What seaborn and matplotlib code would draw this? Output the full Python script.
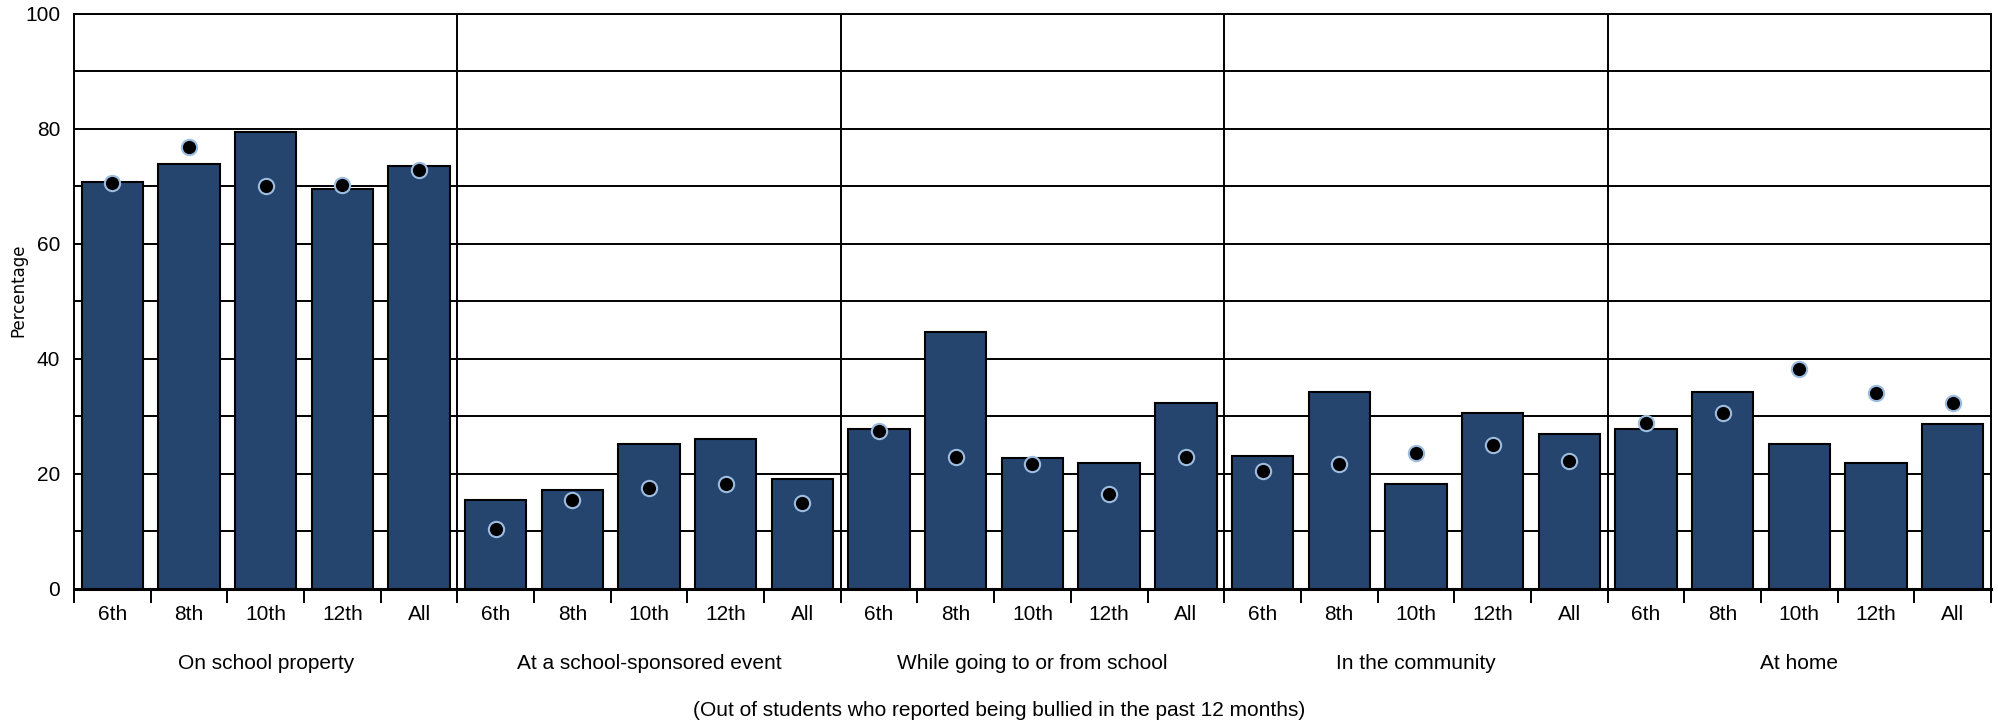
import numpy as np
import pandas as pd
import matplotlib.pyplot as plt
import seaborn as sns
from matplotlib.ticker import MultipleLocator, FixedLocator

# Data
# ==============================================
groups = ['On school property', 'At a school-sponsored event',
          'While going to or from school', 'In the community', 'At home']
grades = ['6th', '8th', '10th', '12th', 'All']

# bar values per group (6th, 8th, 10th, 12th, All)
bar_school = [70.7, 73.8, 79.4, 69.6, 73.5]
bar_event = [15.4, 17.1, 25.1, 26.0, 19.1]
bar_going = [27.8, 44.7, 22.7, 21.8, 32.3]
bar_community = [23.1, 34.3, 18.3, 30.5, 26.9]
bar_home = [27.8, 34.3, 25.1, 21.8, 28.7]

# dot values per group
dot_school = [70.5, 76.9, 70.1, 70.3, 72.8]
dot_event = [10.4, 15.4, 17.6, 18.2, 15.0]
dot_going = [27.5, 22.9, 21.7, 16.5, 22.9]
dot_community = [20.5, 21.7, 23.6, 25.0, 22.3]
dot_home = [28.9, 30.5, 38.3, 34.0, 32.3]

bars = [bar_school, bar_event, bar_going, bar_community, bar_home]
dots = [dot_school, dot_event, dot_going, dot_community, dot_home]

rows = []
for g, bv, dv in zip(groups, bars, dots):
    for gr, b, d in zip(grades, bv, dv):
        rows.append({'group': g, 'grade': gr, 'key': g + '|' + gr, 'bar': b, 'dot': d})
df = pd.DataFrame(rows)
order = list(df['key'])

# Plot
# ==============================================
sns.set_style('white')
plt.rcParams['font.family'] = ['Liberation Sans', 'DejaVu Sans']
plt.rcParams['text.color'] = 'black'
plt.rcParams['xtick.color'] = 'black'
plt.rcParams['ytick.color'] = 'black'

fig = plt.figure(figsize=(19.99, 7.26), dpi=100)
ax = fig.add_axes([0.037, 0.189, 0.959, 0.792])

sns.barplot(data=df, x='key', y='bar', order=order, color='#26456e',
            saturation=1, edgecolor='black', linewidth=1.5, width=0.8,
            zorder=3, ax=ax)
sns.stripplot(data=df, x='key', y='dot', order=order, jitter=False,
              color='black', size=11, edgecolor='#9dbde0', linewidth=1.5,
              zorder=4, ax=ax)

n = len(order)
ax.set_xlim(-0.5, n - 0.5)
ax.set_ylim(0, 100)

# horizontal gridlines every 10
for yv in range(10, 101, 10):
    ax.axhline(yv, color='black', lw=1.4, zorder=1)
# vertical group separators
for i in range(1, len(groups)):
    ax.axvline(i * len(grades) - 0.5, color='black', lw=1.4, zorder=2)

ax.yaxis.set_major_locator(MultipleLocator(20))
ax.tick_params(axis='y', which='major', length=8, width=1.4, labelsize=15, pad=2)

ax.set_xticks(range(n))
ax.set_xticklabels(list(df['grade']), fontsize=15)
ax.tick_params(axis='x', which='major', length=0, pad=12)
ax.xaxis.set_minor_locator(FixedLocator(np.arange(-0.5, n, 1.0)))
ax.tick_params(axis='x', which='minor', length=10, width=1.4, bottom=True)

for s in ax.spines.values():
    s.set_color('black')
    s.set_linewidth(1.4)
ax.spines['bottom'].set_linewidth(2.2)

ax.set_xlabel('')
ax.set_ylabel('')
fig.text(0.009, 0.6, 'Percentage', rotation=90, va='center', ha='center',
         fontsize=12, family='DejaVu Sans')

for i, g in enumerate(groups):
    xc = i * len(grades) + (len(grades) - 1) / 2
    ax.text(xc, -0.13, g, transform=ax.get_xaxis_transform(), ha='center',
            va='center', fontsize=15)

fig.text(0.5, 0.021, '(Out of students who reported being bullied in the past 12 months)',
         ha='center', va='center', fontsize=15)

plt.savefig('out.png', dpi=100)
plt.close()
